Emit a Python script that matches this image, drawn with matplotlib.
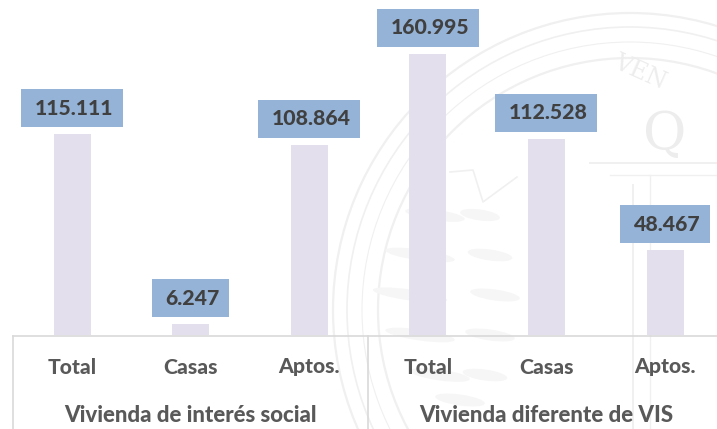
import numpy as np
from matplotlib import pyplot as plt
from matplotlib.patches import Circle, Ellipse

categories = ["Total", "Casas", "Aptos.", "Total", "Casas", "Aptos."]
values = [115111, 6247, 108864, 160995, 112528, 48467]
value_labels = ["115.111", "6.247", "108.864", "160.995", "112.528", "48.467"]
groups = ["Vivienda de interés social", "Vivienda diferente de VIS"]

W, H = 717, 429
plt.rcParams['font.family'] = ['Lato', 'DejaVu Sans']
plt.rcParams['font.weight'] = 'black'
PX = 0.72  # points per pixel at dpi 100

fig = plt.figure(figsize=(W / 100, H / 100), dpi=100)

# pixel layer for the faint seal behind the chart
bg = fig.add_axes([0, 0, 1, 1], zorder=0)
bg.set_xlim(0, W)
bg.set_ylim(H, 0)
bg.axis("off")
seal = "#f0f0f0"
for r, lw in [(297, 1.6), (283, 1.2), (252, 1.6), (268, 0.8)]:
    bg.add_patch(Circle((630, 310), r, fill=False, ec=seal, lw=lw))
bg.text(640, 72, "VEN", color="#ededed", fontsize=17, rotation=-24, ha="center", va="center",
        family="DejaVu Serif", weight="normal")
bg.text(665, 135, "Q", color="#ededed", fontsize=38, ha="center", va="center",
        family="DejaVu Serif", weight="normal")
bg.plot([590, 717], [163, 163], color=seal, lw=1.4)
bg.plot([610, 717], [175, 175], color=seal, lw=1.0)
bg.plot([450, 473, 483, 517], [172, 170, 202, 177], color=seal, lw=1.2)
bg.plot([633, 633], [185, 429], color=seal, lw=1.4)
bg.plot([650, 650], [175, 429], color=seal, lw=1.0)
for cx, cy, w in [(435, 215, 60), (480, 215, 40), (420, 255, 70), (490, 255, 45),
                  (410, 295, 75), (495, 295, 50), (420, 335, 70), (490, 335, 50),
                  (440, 375, 60), (485, 375, 45), (460, 400, 50)]:
    bg.add_patch(Ellipse((cx, cy), w, 11, angle=8, fc="#f6f6f6", ec="none"))

# bars: x = category index, y = value
spacing = 118.6
base_px = 335
scale = 281 / 160995
ax = fig.add_axes([0, 0, 1, 1], zorder=1)
ax.patch.set_alpha(0)
ax.set_xlim(-72 / spacing, (W - 72) / spacing)
ax.set_ylim(-(H - base_px) / scale, base_px / scale)
ax.axis("off")
x = np.arange(len(values))
ax.bar(x, values, width=37 / spacing, color="#e4dfec", zorder=2)

renderer = fig.canvas.get_renderer()
for i, (v, lab) in enumerate(zip(values, value_labels)):
    t = ax.annotate(lab, (i, v), xytext=(2 * PX, 26 * PX), textcoords="offset points",
                    ha="center", va="center", fontsize=15.3, color="#404040", zorder=4,
                    annotation_clip=False)
    box_w = t.get_window_extent(renderer).width + 23
    ax.bar(i, 38 / scale, bottom=v + 7 / scale, width=box_w / spacing, color="#95b3d7", zorder=3)

for i, cat in enumerate(categories):
    ax.annotate(cat, (i, 0), xytext=(0, -32 * PX), textcoords="offset points",
                ha="center", va="center", fontsize=15.2, color="#595959", zorder=4)

for c, g in zip([1, 4], groups):
    ax.annotate(g, (c, 0), xytext=(0, -80 * PX), textcoords="offset points",
                ha="center", va="center", fontsize=16, color="#595959", zorder=4)

# frame of the category table
frame = "#d9d9d9"
ax.axhline(-1 / scale, xmin=13 / W, color=frame, lw=1.2, zorder=3)
for x_px in [13, 368]:
    ax.plot([(x_px - 72) / spacing] * 2, [-1 / scale, ax.get_ylim()[0]], color=frame, lw=1.2, zorder=3)

fig.savefig("out.png", dpi=100)
